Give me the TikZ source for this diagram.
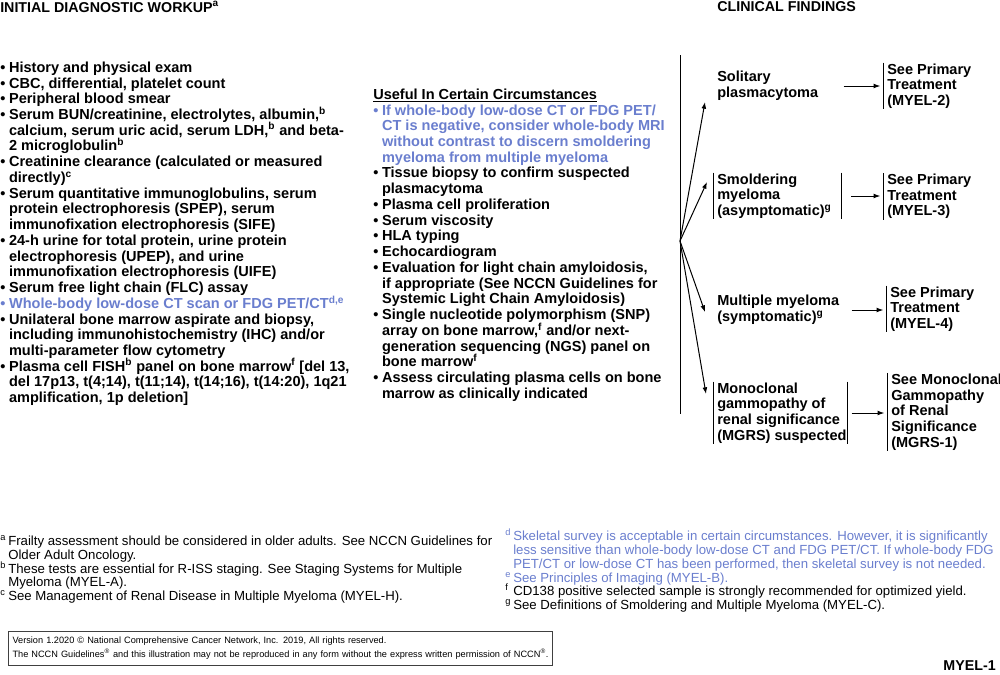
\documentclass[tikz,border=0pt]{standalone}
\usepackage{fontspec}
\setmainfont{Liberation Sans}
\usetikzlibrary{arrows.meta}

\definecolor{nccnblue}{RGB}{106,126,206}
\newcommand{\lstfont}{\fontsize{10.9pt}{11.8pt}\selectfont\bfseries\lineskiplimit=-20pt}
\newcommand{\notefont}{\fontsize{9.9pt}{10.3pt}\selectfont\lineskiplimit=-20pt}
\newcommand{\bul}{\makebox[6.6pt][l]{•}}
\newcommand{\ind}{\hspace*{6.6pt}}
\newcommand{\fnm}[1]{\makebox[6pt][l]{\textsuperscript{#1}}}
\newcommand{\fni}{\hspace*{6pt}}

\begin{document}
\begin{tikzpicture}[x=0.75pt, y=-0.75pt,
  every node/.style={inner sep=0pt},
  head/.style={font=\fontsize{10.7pt}{12pt}\selectfont\bfseries, anchor=base west},
  lst/.style={font=\lstfont, align=left, anchor=north west},
  find/.style={font=\lstfont, align=left, inner xsep=3pt, inner ysep=0.5pt, anchor=west},
  dest/.style={font=\lstfont, align=left, inner xsep=3pt, inner ysep=0.5pt, anchor=west},
  note/.style={font=\notefont, align=left, anchor=north west},
  arr/.style={-{Latex[length=5pt,width=3.6pt]}, line width=0.75pt},
  bar/.style={line width=0.75pt}]
\useasboundingbox (0,0) rectangle (1000,675);

% column heads
\node[head] (workhead) at (0,12) {INITIAL DIAGNOSTIC WORKUP\textsuperscript{a}};
\node[head] (findhead) at (717,11) {CLINICAL FINDINGS};

% initial workup
\node[lst] (workup) at (0,61.5) {%
\bul History and physical exam\\
\bul CBC, differential, platelet count\\
\bul Peripheral blood smear\\
\bul Serum BUN/creatinine, electrolytes, albumin,\textsuperscript{b}\\
\ind calcium, serum uric acid, serum LDH,\textsuperscript{b} and beta-\\
\ind 2 microglobulin\textsuperscript{b}\\
\bul Creatinine clearance (calculated or measured\\
\ind directly)\textsuperscript{c}\\
\bul Serum quantitative immunoglobulins, serum\\
\ind protein electrophoresis (SPEP), serum\\
\ind immunofixation electrophoresis (SIFE)\\
\bul 24-h urine for total protein, urine protein\\
\ind electrophoresis (UPEP), and urine\\
\ind immunofixation electrophoresis (UIFE)\\
\bul Serum free light chain (FLC) assay\\
\textcolor{nccnblue}{\bul Whole-body low-dose CT scan or FDG PET/CT\textsuperscript{d,e}}\\
\bul Unilateral bone marrow aspirate and biopsy,\\
\ind including immunohistochemistry (IHC) and/or\\
\ind multi-parameter flow cytometry\\
\bul Plasma cell FISH\textsuperscript{b} panel on bone marrow\textsuperscript{f} [del 13,\\
\ind del 17p13, t(4;14), t(11;14), t(14;16), t(14:20), 1q21\\
\ind amplification, 1p deletion]};

\node[lst] (useful) at (373,88.5) {%
\underline{Useful In Certain Circumstances}\\
\textcolor{nccnblue}{\bul If whole-body low-dose CT or FDG PET/}\\
\textcolor{nccnblue}{\ind CT is negative, consider whole-body MRI}\\
\textcolor{nccnblue}{\ind without contrast to discern smoldering}\\
\textcolor{nccnblue}{\ind myeloma from multiple myeloma}\\
\bul Tissue biopsy to confirm suspected\\
\ind plasmacytoma\\
\bul Plasma cell proliferation\\
\bul Serum viscosity\\
\bul HLA typing\\
\bul Echocardiogram\\
\bul Evaluation for light chain amyloidosis,\\
\ind if appropriate (See NCCN Guidelines for\\
\ind Systemic Light Chain Amyloidosis)\\
\bul Single nucleotide polymorphism (SNP)\\
\ind array on bone marrow,\textsuperscript{f} and/or next-\\
\ind generation sequencing (NGS) panel on\\
\ind bone marrow\textsuperscript{f}\\
\bul Assess circulating plasma cells on bone\\
\ind marrow as clinically indicated};

% clinical findings
\node[find] (sol) at (713,86) {Solitary\\plasmacytoma};
\node[find] (smol) at (713,196) {Smoldering\\myeloma\\(asymptomatic)\textsuperscript{g}};
\node[find] (mm) at (713,310) {Multiple myeloma\\(symptomatic)\textsuperscript{g}};
\node[find] (mgrs) at (713,413) {Monoclonal\\gammopathy of\\renal significance\\(MGRS) suspected};

\node[dest] (tgt1) at (883,86) {See Primary\\Treatment\\(MYEL-2)};
\node[dest] (tgt2) at (883,196.5) {See Primary\\Treatment\\(MYEL-3)};
\node[dest] (tgt3) at (886,309) {See Primary\\Treatment\\(MYEL-4)};
\node[dest] (tgt4) at (887,412) {See Monoclonal\\Gammopathy\\of Renal\\Significance\\(MGRS-1)};

% right edges of the finding groups
\coordinate (solR) at ([xshift=98pt]sol.west);
\coordinate (smolR) at ([xshift=96pt]smol.west);
\coordinate (mmR) at ([xshift=104pt]mm.west);
\coordinate (mgrsR) at ([xshift=100.5pt]mgrs.west);

\coordinate (vtop) at (680,55);
\coordinate (vbot) at (680,414);
\coordinate (hub) at (680,241);
\draw[bar] (vtop) -- (vbot);
\draw[arr] (hub) -- ([shift={(-8,16)}]sol.west);
\draw[arr] (hub) -- ([shift={(-6,-14)}]smol.west);
\draw[arr] (hub) -- ([shift={(-8,2)}]mm.west);
\draw[arr] (hub) -- ([shift={(-7,-19)}]mgrs.west);

\draw[bar] (smol.north west) -- (smol.south west);
\draw[bar] (smolR |- smol.north) -- (smolR |- smol.south);
\draw[bar] (mgrs.north west) -- (mgrs.south west);
\draw[bar] (mgrsR |- mgrs.north) -- (mgrsR |- mgrs.south);
\foreach \t in {tgt1,tgt2,tgt3,tgt4}
  \draw[bar] (\t.north west) -- (\t.south west);

\draw[arr, shorten >=2pt] (solR) -- (solR -| tgt1.west);
\draw[arr, shorten <=7.5pt, shorten >=2pt] (smolR) -- (smolR -| tgt2.west);
\draw[arr, shorten >=2pt] (mmR) -- (mmR -| tgt3.west);
\draw[arr, shorten <=3.5pt, shorten >=2pt] (mgrsR) -- (mgrsR -| tgt4.west);

% footnotes
\node[note] (notesl) at (0,535.5) {%
\fnm{a}Frailty assessment should be considered in older adults. See NCCN Guidelines for\\
\fni Older Adult Oncology.\\
\fnm{b}These tests are essential for R-ISS staging. See Staging Systems for Multiple\\
\fni Myeloma (MYEL-A).\\
\fnm{c}See Management of Renal Disease in Multiple Myeloma (MYEL-H).};

\node[note] (notesr) at (505,529) {%
\textcolor{nccnblue}{\fnm{d}Skeletal survey is acceptable in certain circumstances. However, it is significantly}\\
\textcolor{nccnblue}{\fni less sensitive than whole-body low-dose CT and FDG PET/CT. If whole-body FDG}\\
\textcolor{nccnblue}{\fni PET/CT or low-dose CT has been performed, then skeletal survey is not needed.}\\
\textcolor{nccnblue}{\fnm{e}See Principles of Imaging (MYEL-B).}\\
\fnm{f}CD138 positive selected sample is strongly recommended for optimized yield.\\
\fnm{g}See Definitions of Smoldering and Multiple Myeloma (MYEL-C).};

% copyright box and page tag
\node[draw=black!75, line width=0.8pt, anchor=north west, text width=402pt, inner xsep=3pt,
  minimum height=25.5pt, align=left, font=\fontsize{6.9pt}{10.5pt}\selectfont] (copyr) at (8,631) {%
Version 1.2020 \textcopyright{} National Comprehensive Cancer Network, Inc. 2019, All rights reserved.\\
The NCCN Guidelines\textsuperscript{®} and this illustration may not be reproduced in any form without the express written permission of NCCN\textsuperscript{®}.};
\node[head, anchor=base east] (pagetag) at (996,670) {MYEL-1};
\end{tikzpicture}
\end{document}
